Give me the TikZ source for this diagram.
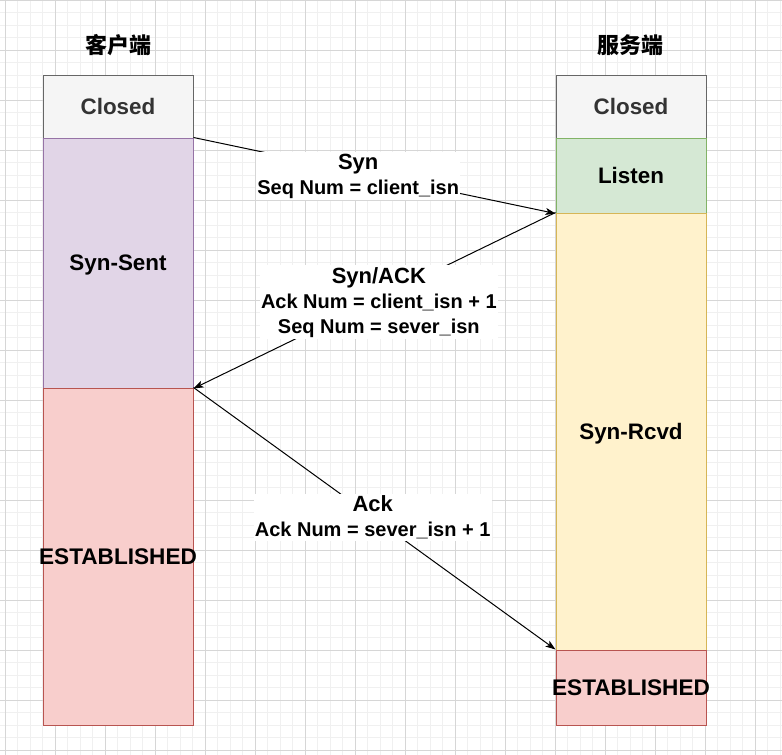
\documentclass[tikz,border=0pt]{standalone}
\usepackage{fontspec}
\setmainfont{Liberation Sans}
\newfontfamily\cjk{Noto Sans CJK SC}
\usetikzlibrary{arrows.meta}

\definecolor{gridmajor}{HTML}{D6D6D6}
\definecolor{gridminor}{HTML}{F0F0F0}
\definecolor{closedfill}{HTML}{F5F5F5}
\definecolor{closedline}{HTML}{666666}
\definecolor{closedtext}{HTML}{333333}
\definecolor{sentfill}{HTML}{E1D5E7}
\definecolor{sentline}{HTML}{9673A6}
\definecolor{listenfill}{HTML}{D5E8D4}
\definecolor{listenline}{HTML}{82B366}
\definecolor{rcvdfill}{HTML}{FFF2CC}
\definecolor{rcvdline}{HTML}{D6B656}
\definecolor{estfill}{HTML}{F8CECC}
\definecolor{estline}{HTML}{B85450}

\newcommand{\head}[1]{{\fontsize{22}{25}\selectfont #1}}

\tikzset{
  state/.style={draw, line width=1pt, minimum width=150pt, inner sep=0pt, text depth=0pt},
  msg/.style={fill=white, align=center, inner xsep=1pt, inner ysep=2pt,
    font=\fontsize{20}{25}\selectfont\bfseries},
  arr/.style={line width=1pt, -{Stealth[length=10pt, width=7pt, inset=2.5pt]}},
  every label/.style={font=\fontsize{22.6}{26}\selectfont\bfseries, text depth=0pt}
}

\begin{document}
\begin{tikzpicture}[x=1pt, y=-1pt, font=\fontsize{22.4}{26}\selectfont\bfseries]
  \useasboundingbox (0,0) rectangle (782,755);
  \fill[white] (0,0) rectangle (782,755);

  % grid
  \foreach \x in {5,17.5,...,782} \draw[gridminor, line width=1pt] (\x,0) -- (\x,755);
  \foreach \y in {0,12.5,...,755} \draw[gridminor, line width=1pt] (0,\y) -- (782,\y);
  \foreach \x in {5,55,...,782} \draw[gridmajor, line width=1pt] (\x,0) -- (\x,755);
  \foreach \y in {0,50,...,755} \draw[gridmajor, line width=1pt] (0,\y) -- (782,\y);

  % titles
  \node (client) at (118,45) {\cjk\bfseries\fontsize{22}{24}\selectfont 客户端};
  \node (server) at (630,45) {\cjk\bfseries\fontsize{22}{24}\selectfont 服务端};

  % client side
  \node[state, fill=closedfill, draw=closedline, text=closedtext, minimum height=63pt] (cclosed) at (118,106.5) {Closed};
  \node[state, fill=sentfill, draw=sentline, minimum height=250pt] (csent) at (118,263) {Syn-Sent};
  \node[state, fill=estfill, draw=estline, minimum height=337pt, label=center:ESTABLISHED] (cest) at (118,556.5) {};

  % server side
  \node[state, fill=closedfill, draw=closedline, text=closedtext, minimum height=63pt] (sclosed) at (631,106.5) {Closed};
  \node[state, fill=listenfill, draw=listenline, minimum height=75pt] (slisten) at (631,175.5) {Listen};
  \node[state, fill=rcvdfill, draw=rcvdline, minimum height=437pt] (srcvd) at (631,431.5) {Syn-Rcvd};
  \node[state, fill=estfill, draw=estline, minimum height=75pt, label=center:ESTABLISHED] (sest) at (631,687.5) {};

  % handshake
  \draw[arr] (csent.north east) -- (slisten.south west)
    node[msg, pos=0.455, yshift=-4pt] (syn) {\head{Syn}\\Seq Num = client\_isn};
  \draw[arr] (srcvd.north west) -- (csent.south east)
    node[msg, pos=0.488, yshift=-4pt] (synack) {\head{Syn/ACK}\\Ack Num = client\_isn + 1\\Seq Num = sever\_isn};
  \draw[arr] (cest.north east) -- (sest.north west)
    node[msg, pos=0.495] (ack) {\head{Ack}\\Ack Num = sever\_isn + 1};
\end{tikzpicture}
\end{document}
